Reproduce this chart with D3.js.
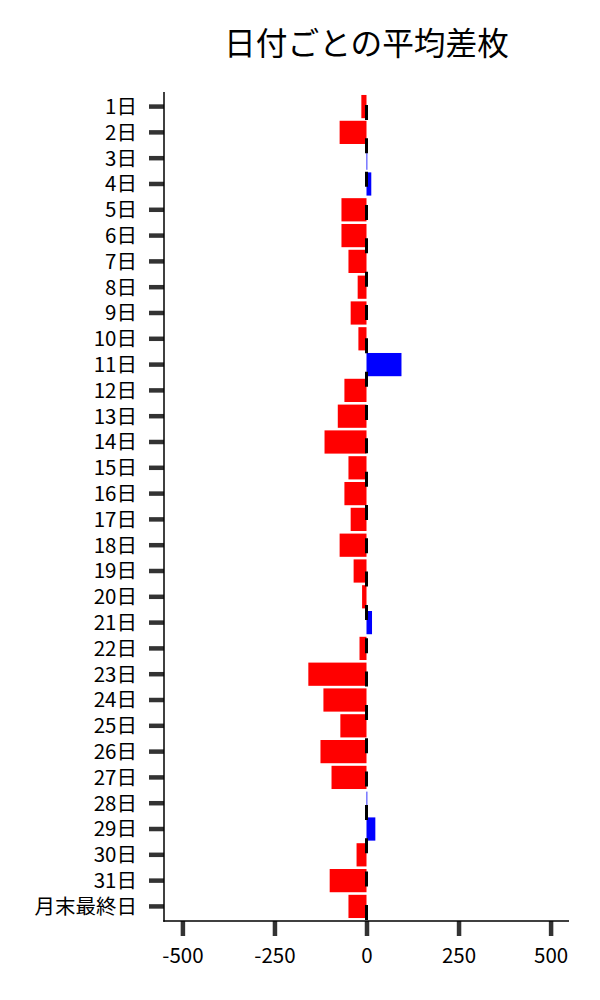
<!DOCTYPE html>
<html><head><meta charset="utf-8">
<script src="https://cdn.jsdelivr.net/npm/d3@7"></script>
<style>body{margin:0;background:#fff;} svg{display:block;}</style>
</head><body>
<svg id="c" width="600" height="1000"></svg>
<script>
const title = "日付ごとの平均差枚";
const categories = ["1日","2日","3日","4日","5日","6日","7日","8日","9日","10日","11日","12日","13日","14日","15日","16日","17日","18日","19日","20日","21日","22日","23日","24日","25日","26日","27日","28日","29日","30日","31日","月末最終日"];
const values = [-14,-73,1,13,-68,-68,-49,-24,-43,-22,95,-60,-78,-114,-49,-60,-43,-73,-35,-12,15,-19,-158,-117,-71,-125,-95,1,24,-27,-100,-49];
const xTicks = [-500,-250,0,250,500];
const xDomain = [-550,550];

(function(){
const font = "'Noto Sans CJK JP','Noto Sans',sans-serif";
const svg = d3.select("#c");
const mL = 164, mR = 569, mT = 92, mB = 921;

const x = d3.scaleLinear().domain(xDomain).range([mL, mR]);
const y = d3.scaleBand().domain(categories).range([mT, mB]).paddingInner(0.1).paddingOuter(0.115);

svg.append("text").attr("x", (mL+mR)/2).attr("y", 55).attr("text-anchor","middle")
  .attr("font-family", font).attr("font-size", 31.7).attr("fill","#000").text(title);

svg.append("g").selectAll("rect").data(categories).join("rect")
  .attr("x", (d,i)=> x(Math.min(0, values[i])))
  .attr("width", (d,i)=> Math.max(0.8, Math.abs(x(values[i]) - x(0))))
  .attr("y", d=> y(d))
  .attr("height", y.bandwidth())
  .attr("fill", (d,i)=> values[i] >= 0 ? "#0000ff" : "#ff0000");

// zero dashed line
svg.append("line").attr("x1", x(0)).attr("x2", x(0)).attr("y1", 105).attr("y2", mB)
  .attr("stroke","#000").attr("stroke-width",3).attr("stroke-dasharray","15,18.33");

// y axis
const yAxis = svg.append("g").attr("transform", `translate(${mL},0)`)
  .call(d3.axisLeft(y).tickSize(15).tickPadding(12));
yAxis.select(".domain").remove();
yAxis.selectAll(".tick line").attr("stroke","#333").attr("stroke-width",4.5);
yAxis.selectAll(".tick text").attr("font-family", font).attr("font-size", 20.5).attr("fill","#000").attr("dy","0.36em");

// x axis
const xAxis = svg.append("g").attr("transform", `translate(0,${mB})`)
  .call(d3.axisBottom(x).tickValues(xTicks).tickSize(15).tickPadding(12).tickFormat(d => String(d)));
xAxis.select(".domain").remove();
xAxis.selectAll(".tick line").attr("stroke","#333").attr("stroke-width",4.5);
xAxis.selectAll(".tick text").attr("font-family", font).attr("font-size", 20.5).attr("fill","#000");

// spines
svg.append("line").attr("x1", mL).attr("x2", mL).attr("y1", mT).attr("y2", mB+0.75)
  .attr("stroke","#000").attr("stroke-width",1.5);
svg.append("line").attr("x1", mL-0.75).attr("x2", mR).attr("y1", mB).attr("y2", mB)
  .attr("stroke","#000").attr("stroke-width",1.5);
})();
</script>
</body></html>
